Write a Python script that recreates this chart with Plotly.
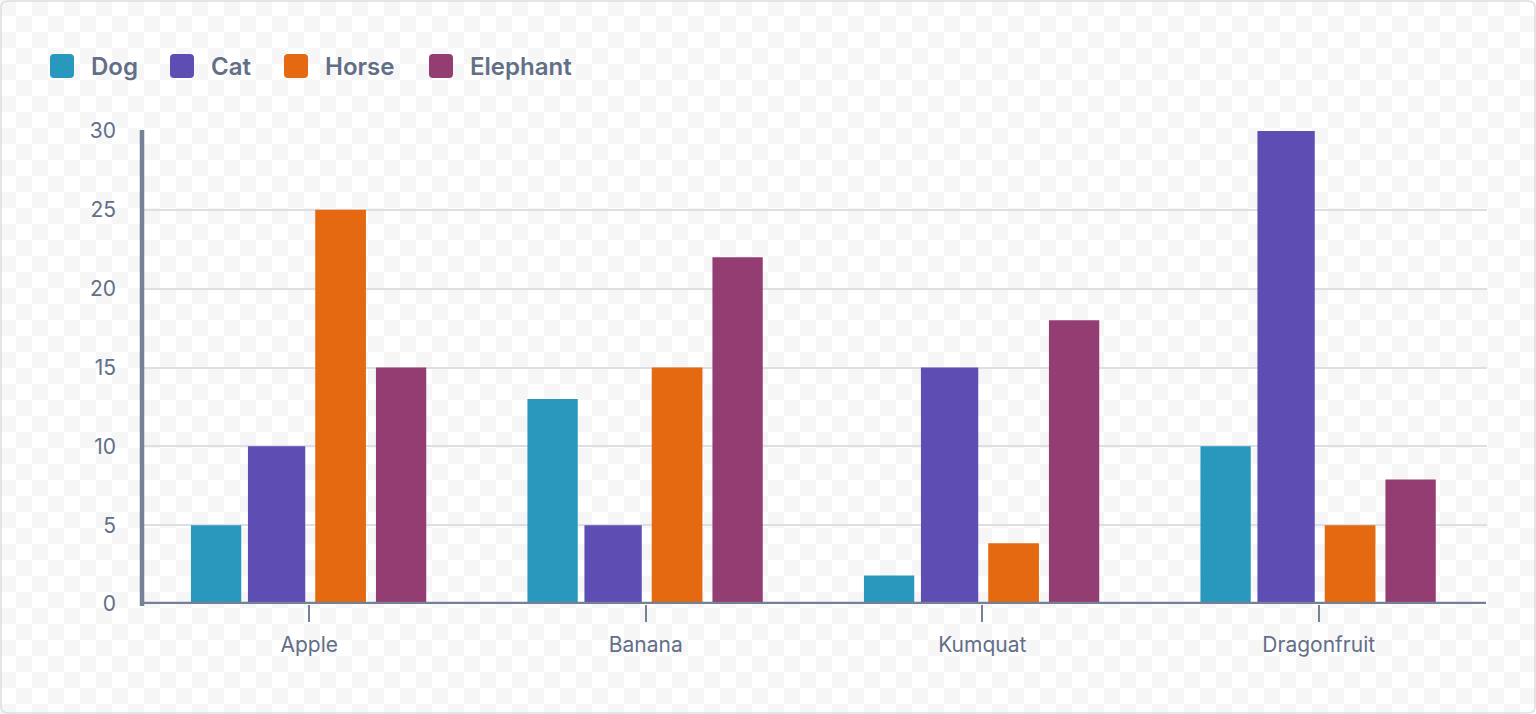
import base64
import plotly.graph_objects as go

# ---- data ----
categories = ["Apple", "Banana", "Kumquat", "Dragonfruit"]
series_names = ["Dog", "Cat", "Horse", "Elephant"]
dog = [5, 13, 1.8, 10]
cat = [10, 5, 15, 30]
horse = [25, 15, 3.85, 5]
elephant = [15, 22, 18, 7.9]
y_ticks = [0, 5, 10, 15, 20, 25, 30]

# ---- style ----
colors = ["#2898BD", "#5E4DB2", "#E56910", "#943D73"]
offsets = [-0.3516, -0.1822, 0.0178, 0.1982]
widths = [0.1495, 0.1703, 0.1507, 0.1495]
TEXT = "#626F86"
AXIS = "#758195"
GRID = "#DCDFE4"
FONT = "Inter"

W, H = 1536, 714
L, T, PW, PH = 141, 131, 1346, 473
R = W - L - PW
B = H - T - PH


def px2x(px):
    return (px - L) / PW


def py2y(py):
    return (T + PH - py) / PH


def rrect_path(x0, y0, x1, y1, r):
    rx = r / PW
    ry = r / PH
    X0, X1 = px2x(x0), px2x(x1)
    Y0, Y1 = py2y(y0), py2y(y1)
    return (
        f"M {X0 + rx},{Y0} L {X1 - rx},{Y0} Q {X1},{Y0} {X1},{Y0 - ry} "
        f"L {X1},{Y1 + ry} Q {X1},{Y1} {X1 - rx},{Y1} "
        f"L {X0 + rx},{Y1} Q {X0},{Y1} {X0},{Y1 + ry} "
        f"L {X0},{Y0 - ry} Q {X0},{Y0} {X0 + rx},{Y0} Z"
    )


values = [dog, cat, horse, elephant]

fig = go.Figure()
for name, vals, col, off, wd in zip(series_names, values, colors, offsets, widths):
    fig.add_trace(
        go.Bar(
            x=categories,
            y=vals,
            name=name,
            marker=dict(color=col, line=dict(width=0)),
            offset=off,
            width=wd,
            showlegend=False,
        )
    )

# checkerboard background
svg = (
    f'<svg xmlns="http://www.w3.org/2000/svg" width="{W}" height="{H}">'
    '<defs><pattern id="p" width="32" height="32" patternUnits="userSpaceOnUse">'
    '<rect width="32" height="32" fill="#ffffff"/>'
    '<rect x="0" y="0" width="16" height="16" fill="#f6f6f6"/>'
    '<rect x="16" y="16" width="16" height="16" fill="#f6f6f6"/>'
    '</pattern></defs>'
    f'<rect width="{W}" height="{H}" fill="url(#p)"/></svg>'
)
uri = "data:image/svg+xml;base64," + base64.b64encode(svg.encode()).decode()

shapes = []
shapes.append(
    dict(type="path", xref="paper", yref="paper",
         path=rrect_path(1, 1, W - 1, H - 1, 7),
         line=dict(color="#DCDFE4", width=1.5), layer="above")
)
# axis lines
shapes.append(
    dict(type="line", xref="paper", yref="y", x0=px2x(140), x1=px2x(1486), y0=0, y1=0,
         line=dict(color=AXIS, width=4.5), layer="above")
)
shapes.append(
    dict(type="line", xref="paper", yref="paper", x0=px2x(142), x1=px2x(142),
         y0=py2y(130), y1=py2y(606), line=dict(color=AXIS, width=4.5), layer="above")
)

# custom legend
legend_x = [50, 170, 284, 429]
annotations = []
for name, col, mx in zip(series_names, colors, legend_x):
    shapes.append(
        dict(type="path", xref="paper", yref="paper",
             path=rrect_path(mx, 54, mx + 24, 78, 4),
             fillcolor=col, line=dict(width=0), layer="above")
    )
    annotations.append(
        dict(x=px2x(mx + 39), y=py2y(66.5), xref="paper", yref="paper",
             text=name, showarrow=False, xanchor="left", yanchor="middle",
             font=dict(family=FONT, size=24, color=TEXT, weight=600))
    )

fig.update_layout(
    width=W,
    height=H,
    margin=dict(l=L, r=R, t=T, b=B, pad=0),
    paper_bgcolor="#ffffff",
    plot_bgcolor="rgba(0,0,0,0)",
    barmode="overlay",
    showlegend=False,
    font=dict(family=FONT, color=TEXT, size=20),
    images=[
        dict(source=uri, xref="paper", yref="paper", x=px2x(0), y=py2y(0),
             sizex=W / PW, sizey=H / PH, xanchor="left", yanchor="top",
             sizing="stretch", layer="below")
    ],
    shapes=shapes,
    annotations=annotations,
    xaxis=dict(
        type="category",
        categoryorder="array",
        categoryarray=categories,
        range=[-0.5, len(categories) - 0.5],
        showgrid=False,
        showline=False,
        zeroline=False,
        ticks="outside",
        ticklen=17,
        tickwidth=2,
        tickcolor=AXIS,
        ticklabelstandoff=5,
        tickfont=dict(family=FONT, size=21, color=TEXT),
    ),
    yaxis=dict(
        range=[0, 30],
        tickvals=y_ticks,
        ticktext=[str(v) for v in y_ticks],
        showgrid=True,
        gridcolor=GRID,
        gridwidth=2,
        zeroline=False,
        showline=False,
        ticks="",
        ticklabelstandoff=24,
        tickfont=dict(family=FONT, size=21, color=TEXT),
    ),
)

fig.write_html("out.html")
